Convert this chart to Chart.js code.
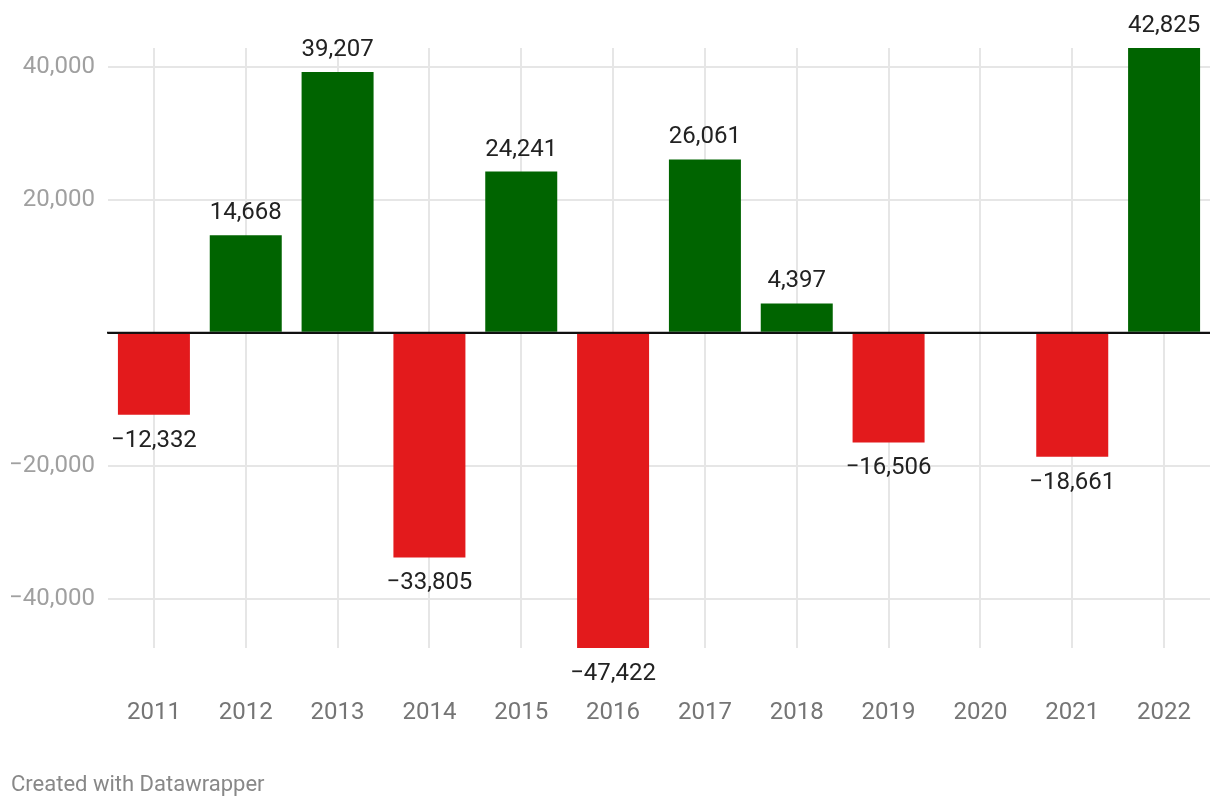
<!DOCTYPE html>
<html>
<head>
<meta charset="utf-8">
<script src="https://cdn.jsdelivr.net/npm/chart.js@4"></script>
<style>
  html, body { margin: 0; padding: 0; background: #fff; }
  #wrap { position: relative; width: 1220px; height: 808px; }
  #footer { position: absolute; left: 11px; top: 773px; font: 22px Roboto, sans-serif; line-height: 22px; color: #888; white-space: nowrap; }
</style>
</head>
<body>
<div id="wrap">
  <canvas id="c" width="1220" height="808"></canvas>
  <div id="footer">Created with Datawrapper</div>
</div>
<script>
const years = ['2011','2012','2013','2014','2015','2016','2017','2018','2019','2020','2021','2022'];
const values = [-12332, 14668, 39207, -33805, 24241, -47422, 26061, 4397, -16506, null, -18661, 42825];
const yTicks = [-40000, -20000, 0, 20000, 40000];
const yMin = -47422;
const yMax = 42825;

const GREEN = '#006400';
const RED = '#e31a1c';
const GRID = '#e6e6e6';
const FONT = 'Roboto, sans-serif';

function fmt(v) {
  const s = Math.abs(v).toLocaleString('en-US');
  return v < 0 ? '\u2212' + s : s;
}

const overlay = {
  id: 'overlay',
  afterDatasetsDraw(chart) {
    const ctx = chart.ctx;
    const y = chart.scales.y;
    const area = chart.chartArea;
    const y0 = y.getPixelForValue(0);
    ctx.save();
    ctx.strokeStyle = '#111';
    ctx.lineWidth = 2;
    ctx.beginPath();
    ctx.moveTo(area.left - 1, y0);
    ctx.lineTo(area.right, y0);
    ctx.stroke();

    const meta = chart.getDatasetMeta(0);
    ctx.font = '24px ' + FONT;
    ctx.fillStyle = '#222';
    ctx.textAlign = 'center';
    ctx.textBaseline = 'alphabetic';
    meta.data.forEach((bar, i) => {
      const v = values[i];
      if (v === null || v === undefined) return;
      if (v >= 0) {
        ctx.fillText(fmt(v), bar.x, bar.y - 16);
      } else {
        ctx.fillText(fmt(v), bar.x, bar.y + 32);
      }
    });
    ctx.restore();
  }
};

new Chart(document.getElementById('c'), {
  type: 'bar',
  data: {
    labels: years,
    datasets: [{
      data: values,
      backgroundColor: values.map(v => (v !== null && v < 0) ? RED : GREEN),
      borderWidth: 0,
      categoryPercentage: 1,
      barPercentage: 0.784
    }]
  },
  options: {
    responsive: false,
    animation: false,
    devicePixelRatio: 1,
    layout: { padding: { top: 48, right: 10, bottom: 60, left: 0 } },
    plugins: { legend: { display: false }, tooltip: { enabled: false } },
    scales: {
      x: {
        offset: true,
        grid: { offset: false, color: GRID, lineWidth: 2, drawTicks: true, tickLength: 51, tickColor: 'rgba(0,0,0,0)' },
        border: { display: false },
        ticks: { color: '#757575', font: { size: 24, family: FONT }, padding: 0, maxRotation: 0, autoSkip: false },
        afterFit(scale) { scale.height = 100; }
      },
      y: {
        min: yMin,
        max: yMax,
        afterBuildTicks(scale) { scale.ticks = yTicks.map(v => ({ value: v })); },
        grid: {
          color: ctx => (ctx.tick && ctx.tick.value === 0) ? '#111' : GRID,
          lineWidth: 2,
          drawTicks: false
        },
        border: { display: false },
        ticks: {
          color: '#a0a0a0',
          font: { size: 24, family: FONT },
          padding: 13,
          callback: v => v === 0 ? '' : fmt(v)
        },
        afterFit(scale) { scale.width = 108; }
      }
    }
  },
  plugins: [overlay]
});
</script>
</body>
</html>
